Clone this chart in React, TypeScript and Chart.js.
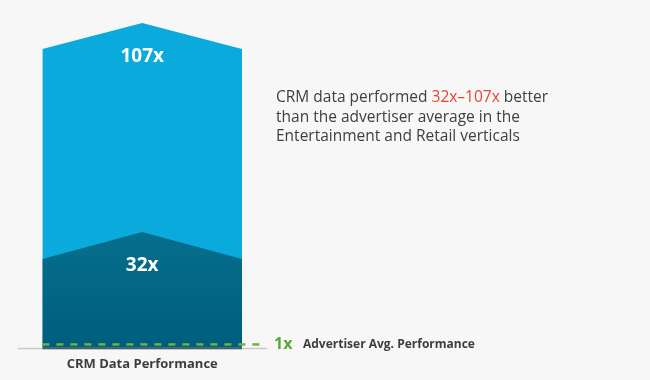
import React, { useEffect, useRef } from "react";
import { Chart, registerables } from "chart.js";
Chart.register(...registerables);

// Display values (multipliers)
const seriesNames = ["CRM Data (high)", "CRM Data (low)", "Advertiser Avg."];
const multipliers = [107, 32, 1];
const valueLabels = ["107x", "32x", "1x"];
// Stylized heights (0–100 relative scale): [shoulder, peak]
const highShape = [92, 100];
const lowShape = [27.4, 35.7];
const avgLevel = [1.1];
const categoryLabel = "CRM Data Performance";
const avgLabel = "Advertiser Avg. Performance";

const FONT = "'Open Sans', 'Noto Sans', sans-serif";

export default function App() {
  const ref = useRef<HTMLCanvasElement>(null);
  useEffect(() => {
    document.body.style.margin = "0";
    document.body.style.background = "#f7f7f7";
    const canvas = ref.current!;
    const ctx = canvas.getContext("2d")!;
    const grad = ctx.createLinearGradient(0, 232, 0, 348);
    grad.addColorStop(0, "#066f8d");
    grad.addColorStop(1, "#005d7d");

    const labelsPlugin = {
      id: "labels",
      afterDatasetsDraw(chart: any) {
        const c = chart.ctx;
        const xs = chart.scales.x;
        const ys = chart.scales.y;
        const ca = chart.chartArea;
        c.save();
        // baseline
        const y0 = ys.getPixelForValue(0);
        c.strokeStyle = "#c9c9c9";
        c.lineWidth = 1.5;
        c.beginPath();
        c.moveTo(ca.left, y0 + 0.5);
        c.lineTo(ca.right, y0 + 0.5);
        c.stroke();
        c.strokeStyle = "#4d5a60";
        c.beginPath();
        c.moveTo(xs.getPixelForValue(0), y0 + 0.5);
        c.lineTo(xs.getPixelForValue(1), y0 + 0.5);
        c.stroke();
        // value labels
        c.fillStyle = "#ffffff";
        c.font = `bold 19px ${FONT}`;
        c.textAlign = "center";
        c.textBaseline = "middle";
        const cx = xs.getPixelForValue(0.5);
        c.fillText(valueLabels[0], cx, ys.getPixelForValue(highShape[0]) + 8);
        c.fillText(valueLabels[1], cx, ys.getPixelForValue(lowShape[0]) + 7);
        // avg label
        const ay = ys.getPixelForValue(avgLevel[0]);
        c.textAlign = "left";
        c.fillStyle = "#5aa83a";
        c.font = `bold 16px ${FONT}`;
        c.fillText(valueLabels[2], 274, ay);
        c.fillStyle = "#3d3d3d";
        c.font = `bold 12px ${FONT}`;
        c.fillText(avgLabel, 303, ay);
        // category label
        c.textAlign = "center";
        c.font = `bold 13px ${FONT}`;
        c.fillStyle = "#3d3d3d";
        c.fillText(categoryLabel, cx, y0 + 16);
        c.restore();
      },
    };

    const shape = (s: number[]) => [
      { x: 0, y: s[0] },
      { x: 0.5, y: s[1] },
      { x: 1, y: s[0] },
    ];

    const chart = new Chart(canvas, {
      type: "line",
      data: {
        datasets: [
          {
            label: seriesNames[2],
            data: [
              { x: 0, y: avgLevel[0] },
              { x: 1.115, y: avgLevel[0] },
            ],
            borderColor: "#6cb33f",
            borderWidth: 2.5,
            borderDash: [7, 7],
            pointRadius: 0,
            fill: false,
            order: 0,
          },
          {
            label: seriesNames[1],
            data: shape(lowShape),
            backgroundColor: grad,
            borderWidth: 0,
            pointRadius: 0,
            fill: "origin",
            tension: 0,
            order: 1,
          },
          {
            label: seriesNames[0],
            data: shape(highShape),
            backgroundColor: "#0aaadc",
            borderWidth: 0,
            pointRadius: 0,
            fill: "origin",
            tension: 0,
            order: 2,
          },
        ],
      },
      options: {
        animation: false,
        responsive: false,
        layout: { padding: { left: 18, right: 383, top: 23, bottom: 32 } },
        scales: {
          x: { type: "linear", min: -0.122, max: 1.125, display: false },
          y: { min: 0, max: 100, display: false },
        },
        plugins: { legend: { display: false }, tooltip: { enabled: false } },
      },
      plugins: [labelsPlugin],
    });
    return () => chart.destroy();
  }, []);

  return (
    <div style={{ position: "fixed", left: 0, top: 0, width: 650, height: 380, background: "#f7f7f7" }}>
      <canvas ref={ref} width={650} height={380} style={{ position: "absolute", left: 0, top: 0 }} />
      <div
        style={{
          position: "absolute",
          left: 276,
          top: 87,
          width: 330,
          fontFamily: FONT,
          fontSize: 15.5,
          lineHeight: "19.5px",
          color: "#404040",
          whiteSpace: "nowrap",
        }}
      >
        CRM data performed <span style={{ color: "#e8432e" }}>{valueLabels[1]}–{valueLabels[0]}</span> better
        <br />
        than the advertiser average in the
        <br />
        Entertainment and Retail verticals
      </div>
    </div>
  );
}
